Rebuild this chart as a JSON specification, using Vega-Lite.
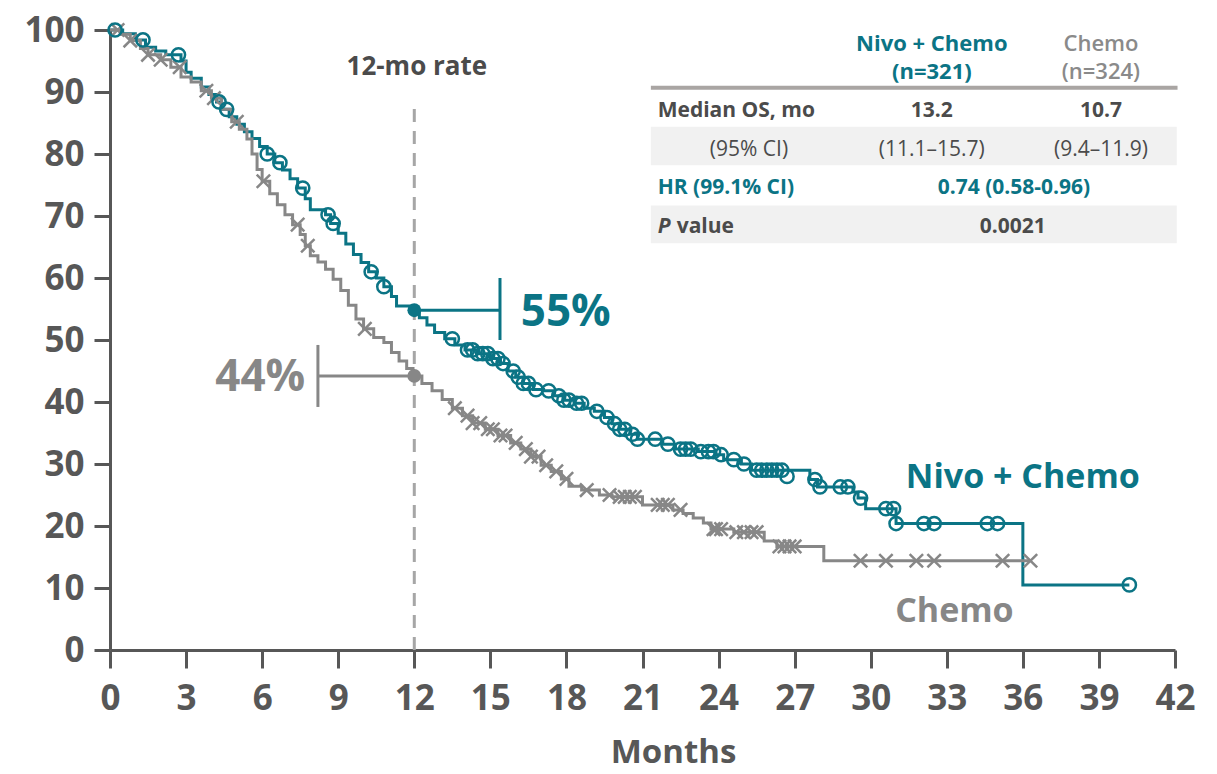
{
  "$schema": "https://vega.github.io/schema/vega-lite/v6.json",
  "width": 1065,
  "height": 620,
  "autosize": {"type": "none"},
  "padding": {"left": 110, "top": 30, "right": 42, "bottom": 124},
  "background": "white",
  "config": {
    "view": {"stroke": null},
    "font": "Open Sans",
    "axis": {
      "labelFont": "Open Sans",
      "labelFontWeight": "bold",
      "labelFontSize": 35,
      "labelColor": "#575757",
      "tickColor": "#575757",
      "domainColor": "#575757",
      "tickWidth": 3,
      "domainWidth": 3,
      "grid": false,
      "titleFont": "Open Sans",
      "titleFontWeight": "bold",
      "titleFontSize": 33,
      "titleColor": "#575757"
    }
  },
  "datasets": {
    "curve": [
      {"arm": "Nivo + Chemo", "t": 0, "s": 100},
      {"arm": "Nivo + Chemo", "t": 0.5, "s": 99.4},
      {"arm": "Nivo + Chemo", "t": 1.0, "s": 98.4},
      {"arm": "Nivo + Chemo", "t": 1.4, "s": 97.2},
      {"arm": "Nivo + Chemo", "t": 1.8, "s": 96.6},
      {"arm": "Nivo + Chemo", "t": 2.2, "s": 96.0},
      {"arm": "Nivo + Chemo", "t": 2.8, "s": 95.0},
      {"arm": "Nivo + Chemo", "t": 3.0, "s": 93.2},
      {"arm": "Nivo + Chemo", "t": 3.2, "s": 92.2},
      {"arm": "Nivo + Chemo", "t": 3.6, "s": 90.8},
      {"arm": "Nivo + Chemo", "t": 3.9, "s": 89.6},
      {"arm": "Nivo + Chemo", "t": 4.2, "s": 88.4},
      {"arm": "Nivo + Chemo", "t": 4.4, "s": 87.2},
      {"arm": "Nivo + Chemo", "t": 4.7, "s": 86.0},
      {"arm": "Nivo + Chemo", "t": 5.0, "s": 84.8},
      {"arm": "Nivo + Chemo", "t": 5.3, "s": 83.6},
      {"arm": "Nivo + Chemo", "t": 5.6, "s": 82.5},
      {"arm": "Nivo + Chemo", "t": 5.9, "s": 81.2},
      {"arm": "Nivo + Chemo", "t": 6.2, "s": 80.0},
      {"arm": "Nivo + Chemo", "t": 6.5, "s": 78.6},
      {"arm": "Nivo + Chemo", "t": 6.8, "s": 77.4},
      {"arm": "Nivo + Chemo", "t": 7.1, "s": 76.0},
      {"arm": "Nivo + Chemo", "t": 7.4, "s": 74.5},
      {"arm": "Nivo + Chemo", "t": 7.7, "s": 72.8},
      {"arm": "Nivo + Chemo", "t": 7.9, "s": 71.0},
      {"arm": "Nivo + Chemo", "t": 8.5, "s": 70.2},
      {"arm": "Nivo + Chemo", "t": 8.7, "s": 68.8},
      {"arm": "Nivo + Chemo", "t": 9.0, "s": 67.2},
      {"arm": "Nivo + Chemo", "t": 9.3, "s": 65.5},
      {"arm": "Nivo + Chemo", "t": 9.6, "s": 63.8},
      {"arm": "Nivo + Chemo", "t": 9.9, "s": 62.5},
      {"arm": "Nivo + Chemo", "t": 10.2, "s": 61.0},
      {"arm": "Nivo + Chemo", "t": 10.5, "s": 60.0},
      {"arm": "Nivo + Chemo", "t": 10.8, "s": 58.6},
      {"arm": "Nivo + Chemo", "t": 11.1, "s": 57.0},
      {"arm": "Nivo + Chemo", "t": 11.3, "s": 55.5},
      {"arm": "Nivo + Chemo", "t": 11.9, "s": 54.8},
      {"arm": "Nivo + Chemo", "t": 12.2, "s": 53.6},
      {"arm": "Nivo + Chemo", "t": 12.5, "s": 52.4},
      {"arm": "Nivo + Chemo", "t": 12.8, "s": 51.2},
      {"arm": "Nivo + Chemo", "t": 13.2, "s": 50.2},
      {"arm": "Nivo + Chemo", "t": 13.6, "s": 49.2},
      {"arm": "Nivo + Chemo", "t": 14.0, "s": 48.4},
      {"arm": "Nivo + Chemo", "t": 14.5, "s": 47.8},
      {"arm": "Nivo + Chemo", "t": 15.0, "s": 47.0},
      {"arm": "Nivo + Chemo", "t": 15.4, "s": 46.2},
      {"arm": "Nivo + Chemo", "t": 15.7, "s": 45.0},
      {"arm": "Nivo + Chemo", "t": 16.0, "s": 44.0},
      {"arm": "Nivo + Chemo", "t": 16.3, "s": 43.0},
      {"arm": "Nivo + Chemo", "t": 16.7, "s": 42.0},
      {"arm": "Nivo + Chemo", "t": 17.1, "s": 41.8},
      {"arm": "Nivo + Chemo", "t": 17.5, "s": 41.0},
      {"arm": "Nivo + Chemo", "t": 17.9, "s": 40.3},
      {"arm": "Nivo + Chemo", "t": 18.3, "s": 39.8},
      {"arm": "Nivo + Chemo", "t": 18.7, "s": 39.0},
      {"arm": "Nivo + Chemo", "t": 19.1, "s": 38.5},
      {"arm": "Nivo + Chemo", "t": 19.5, "s": 37.5},
      {"arm": "Nivo + Chemo", "t": 19.8, "s": 36.5},
      {"arm": "Nivo + Chemo", "t": 20.1, "s": 35.6},
      {"arm": "Nivo + Chemo", "t": 20.5, "s": 34.8},
      {"arm": "Nivo + Chemo", "t": 20.8, "s": 34.0},
      {"arm": "Nivo + Chemo", "t": 21.8, "s": 33.2},
      {"arm": "Nivo + Chemo", "t": 22.3, "s": 32.4},
      {"arm": "Nivo + Chemo", "t": 23.2, "s": 32.0},
      {"arm": "Nivo + Chemo", "t": 23.9, "s": 31.5},
      {"arm": "Nivo + Chemo", "t": 24.2, "s": 30.7},
      {"arm": "Nivo + Chemo", "t": 24.9, "s": 30.0},
      {"arm": "Nivo + Chemo", "t": 25.3, "s": 29.0},
      {"arm": "Nivo + Chemo", "t": 27.6, "s": 27.5},
      {"arm": "Nivo + Chemo", "t": 27.9, "s": 26.3},
      {"arm": "Nivo + Chemo", "t": 29.3, "s": 25.5},
      {"arm": "Nivo + Chemo", "t": 29.5, "s": 24.5},
      {"arm": "Nivo + Chemo", "t": 29.8, "s": 22.8},
      {"arm": "Nivo + Chemo", "t": 31.0, "s": 20.4},
      {"arm": "Nivo + Chemo", "t": 36.0, "s": 10.5},
      {"arm": "Nivo + Chemo", "t": 40.2, "s": 10.5},
      {"arm": "Chemo", "t": 0, "s": 100},
      {"arm": "Chemo", "t": 0.4, "s": 99.3},
      {"arm": "Chemo", "t": 0.8, "s": 98.3},
      {"arm": "Chemo", "t": 1.2, "s": 97.0},
      {"arm": "Chemo", "t": 1.5, "s": 96.0},
      {"arm": "Chemo", "t": 2.0, "s": 95.2},
      {"arm": "Chemo", "t": 2.4, "s": 94.0},
      {"arm": "Chemo", "t": 2.8, "s": 92.4},
      {"arm": "Chemo", "t": 3.2, "s": 91.6},
      {"arm": "Chemo", "t": 3.6, "s": 90.2},
      {"arm": "Chemo", "t": 4.0, "s": 89.0},
      {"arm": "Chemo", "t": 4.4, "s": 87.2},
      {"arm": "Chemo", "t": 4.8, "s": 85.2},
      {"arm": "Chemo", "t": 5.1, "s": 84.0},
      {"arm": "Chemo", "t": 5.4, "s": 82.4},
      {"arm": "Chemo", "t": 5.6, "s": 80.0},
      {"arm": "Chemo", "t": 5.8, "s": 77.5},
      {"arm": "Chemo", "t": 6.0, "s": 75.6},
      {"arm": "Chemo", "t": 6.3, "s": 73.6},
      {"arm": "Chemo", "t": 6.6, "s": 71.8},
      {"arm": "Chemo", "t": 6.9, "s": 70.2},
      {"arm": "Chemo", "t": 7.2, "s": 68.6},
      {"arm": "Chemo", "t": 7.5, "s": 67.0},
      {"arm": "Chemo", "t": 7.7, "s": 65.2},
      {"arm": "Chemo", "t": 7.9, "s": 63.6},
      {"arm": "Chemo", "t": 8.2, "s": 62.6},
      {"arm": "Chemo", "t": 8.5, "s": 61.4},
      {"arm": "Chemo", "t": 8.8, "s": 59.8},
      {"arm": "Chemo", "t": 9.1, "s": 58.0},
      {"arm": "Chemo", "t": 9.4, "s": 55.6},
      {"arm": "Chemo", "t": 9.7, "s": 53.4},
      {"arm": "Chemo", "t": 10.0, "s": 51.8},
      {"arm": "Chemo", "t": 10.4, "s": 50.4},
      {"arm": "Chemo", "t": 10.8, "s": 49.6},
      {"arm": "Chemo", "t": 11.1, "s": 48.0},
      {"arm": "Chemo", "t": 11.4, "s": 46.6},
      {"arm": "Chemo", "t": 11.7, "s": 45.4},
      {"arm": "Chemo", "t": 11.95, "s": 44.2},
      {"arm": "Chemo", "t": 12.3, "s": 43.0},
      {"arm": "Chemo", "t": 12.7, "s": 41.8},
      {"arm": "Chemo", "t": 13.1, "s": 40.4},
      {"arm": "Chemo", "t": 13.5, "s": 39.0},
      {"arm": "Chemo", "t": 13.9, "s": 37.8},
      {"arm": "Chemo", "t": 14.3, "s": 36.6},
      {"arm": "Chemo", "t": 14.8, "s": 35.6},
      {"arm": "Chemo", "t": 15.3, "s": 34.6},
      {"arm": "Chemo", "t": 15.8, "s": 33.4},
      {"arm": "Chemo", "t": 16.2, "s": 32.4},
      {"arm": "Chemo", "t": 16.6, "s": 31.2},
      {"arm": "Chemo", "t": 17.0, "s": 29.8},
      {"arm": "Chemo", "t": 17.4, "s": 28.8},
      {"arm": "Chemo", "t": 17.8, "s": 27.6},
      {"arm": "Chemo", "t": 18.1, "s": 26.4},
      {"arm": "Chemo", "t": 18.6, "s": 25.8},
      {"arm": "Chemo", "t": 19.3, "s": 25.0},
      {"arm": "Chemo", "t": 19.8, "s": 24.7},
      {"arm": "Chemo", "t": 21.0, "s": 23.4},
      {"arm": "Chemo", "t": 22.2, "s": 22.6},
      {"arm": "Chemo", "t": 22.6, "s": 22.0},
      {"arm": "Chemo", "t": 23.0, "s": 21.3},
      {"arm": "Chemo", "t": 23.4, "s": 20.5},
      {"arm": "Chemo", "t": 23.7, "s": 19.5},
      {"arm": "Chemo", "t": 24.6, "s": 19.0},
      {"arm": "Chemo", "t": 25.8, "s": 17.6},
      {"arm": "Chemo", "t": 26.3, "s": 16.7},
      {"arm": "Chemo", "t": 28.15, "s": 14.4},
      {"arm": "Chemo", "t": 36.3, "s": 14.4}
    ],
    "censorNivo": [
      {"t": 0.2, "s": 100}, {"t": 1.3, "s": 98.4}, {"t": 2.7, "s": 96.0}, {"t": 4.3, "s": 88.4},
      {"t": 4.6, "s": 87.2}, {"t": 6.2, "s": 80.0}, {"t": 6.7, "s": 78.6}, {"t": 7.6, "s": 74.5},
      {"t": 8.6, "s": 70.2}, {"t": 8.8, "s": 68.8}, {"t": 10.3, "s": 61.0}, {"t": 10.8, "s": 58.6},
      {"t": 13.5, "s": 50.2}, {"t": 14.1, "s": 48.4}, {"t": 14.3, "s": 48.4}, {"t": 14.5, "s": 47.8},
      {"t": 14.7, "s": 47.8}, {"t": 14.9, "s": 47.8}, {"t": 15.1, "s": 47.0}, {"t": 15.3, "s": 47.0},
      {"t": 15.5, "s": 46.2}, {"t": 15.9, "s": 45.0}, {"t": 16.1, "s": 44.0}, {"t": 16.3, "s": 43.0},
      {"t": 16.5, "s": 43.0}, {"t": 16.8, "s": 42.0}, {"t": 17.3, "s": 41.8}, {"t": 17.7, "s": 41.0},
      {"t": 17.9, "s": 40.3}, {"t": 18.1, "s": 40.3}, {"t": 18.4, "s": 39.8}, {"t": 18.6, "s": 39.8},
      {"t": 19.2, "s": 38.5}, {"t": 19.6, "s": 37.5}, {"t": 19.9, "s": 36.5}, {"t": 20.1, "s": 35.6},
      {"t": 20.3, "s": 35.6}, {"t": 20.6, "s": 34.8}, {"t": 20.8, "s": 34.0}, {"t": 21.5, "s": 34.0},
      {"t": 22.0, "s": 33.2}, {"t": 22.5, "s": 32.4}, {"t": 22.7, "s": 32.4}, {"t": 22.9, "s": 32.4},
      {"t": 23.3, "s": 32.0}, {"t": 23.6, "s": 32.0}, {"t": 23.8, "s": 32.0}, {"t": 24.1, "s": 31.5},
      {"t": 24.6, "s": 30.7}, {"t": 25.0, "s": 30.0}, {"t": 25.5, "s": 29.0}, {"t": 25.7, "s": 29.0},
      {"t": 25.9, "s": 29.0}, {"t": 26.1, "s": 29.0}, {"t": 26.3, "s": 29.0}, {"t": 26.5, "s": 29.0},
      {"t": 26.7, "s": 28.0}, {"t": 27.8, "s": 27.5}, {"t": 28.0, "s": 26.3}, {"t": 28.8, "s": 26.3},
      {"t": 29.1, "s": 26.3}, {"t": 29.6, "s": 24.5}, {"t": 30.6, "s": 22.8}, {"t": 30.9, "s": 22.8},
      {"t": 31.0, "s": 20.4}, {"t": 32.1, "s": 20.4}, {"t": 32.5, "s": 20.4}, {"t": 34.6, "s": 20.4},
      {"t": 35.0, "s": 20.4}, {"t": 40.2, "s": 10.5}
    ],
    "censorChemo": [
      {"t": 0.3, "s": 100}, {"t": 0.8, "s": 98.3}, {"t": 1.5, "s": 96.0}, {"t": 2.0, "s": 95.2},
      {"t": 2.75, "s": 94.0}, {"t": 3.8, "s": 90.2}, {"t": 4.1, "s": 89.0}, {"t": 5.0, "s": 85.2},
      {"t": 6.05, "s": 75.6}, {"t": 7.4, "s": 68.6}, {"t": 7.8, "s": 65.2}, {"t": 10.05, "s": 51.8},
      {"t": 13.6, "s": 39.0}, {"t": 14.1, "s": 37.8}, {"t": 14.3, "s": 36.6}, {"t": 14.6, "s": 36.6},
      {"t": 14.9, "s": 35.6}, {"t": 15.1, "s": 35.6}, {"t": 15.4, "s": 34.6}, {"t": 15.6, "s": 34.6},
      {"t": 16.0, "s": 33.4}, {"t": 16.4, "s": 32.4}, {"t": 16.6, "s": 31.2}, {"t": 16.9, "s": 31.2},
      {"t": 17.2, "s": 29.8}, {"t": 17.6, "s": 28.8}, {"t": 18.0, "s": 27.6}, {"t": 18.8, "s": 25.8},
      {"t": 19.7, "s": 25.0}, {"t": 20.1, "s": 24.7}, {"t": 20.3, "s": 24.7}, {"t": 20.5, "s": 24.7},
      {"t": 20.7, "s": 24.7}, {"t": 21.6, "s": 23.4}, {"t": 21.8, "s": 23.4}, {"t": 22.0, "s": 23.4},
      {"t": 22.5, "s": 22.6}, {"t": 23.8, "s": 19.5}, {"t": 23.9, "s": 19.5}, {"t": 24.1, "s": 19.5},
      {"t": 24.7, "s": 19.0}, {"t": 25.0, "s": 19.0}, {"t": 25.3, "s": 19.0}, {"t": 25.5, "s": 19.0},
      {"t": 26.4, "s": 16.7}, {"t": 26.6, "s": 16.7}, {"t": 26.8, "s": 16.7}, {"t": 27.0, "s": 16.7},
      {"t": 29.6, "s": 14.4}, {"t": 30.6, "s": 14.4}, {"t": 31.8, "s": 14.4}, {"t": 32.5, "s": 14.4},
      {"t": 35.2, "s": 14.4}, {"t": 36.3, "s": 14.4}
    ],
    "rate12": [
      {"arm": "Nivo + Chemo", "t": 12, "s": 54.8},
      {"arm": "Chemo", "t": 12, "s": 44.2}
    ],
    "brackets": [
      {"arm": "Nivo + Chemo", "t": 12, "t2": 15.38, "s": 54.8, "s2": 54.8},
      {"arm": "Nivo + Chemo", "t": 15.38, "t2": 15.38, "s": 60.0, "s2": 50.0},
      {"arm": "Chemo", "t": 8.2, "t2": 12, "s": 44.2, "s2": 44.2},
      {"arm": "Chemo", "t": 8.2, "t2": 8.2, "s": 49.2, "s2": 39.2}
    ],
    "bands": [
      {"t": 21.33, "t2": 42.07, "s": 84.4, "s2": 78.2},
      {"t": 21.33, "t2": 42.07, "s": 71.7, "s2": 65.6}
    ]
  },
  "encoding": {
    "x": {
      "field": "t", "type": "quantitative",
      "scale": {"domain": [0, 42], "nice": false, "zero": true},
      "axis": {
        "title": "Months",
        "values": [0, 3, 6, 9, 12, 15, 18, 21, 24, 27, 30, 33, 36, 39, 42],
        "tickSize": 18,
        "labelPadding": 13,
        "titlePadding": 20,
        "titleX": 563,
        "labelFlush": false,
        "labelOverlap": false
      }
    },
    "y": {
      "field": "s", "type": "quantitative",
      "scale": {"domain": [0, 100], "nice": false},
      "axis": {
        "title": null,
        "values": [0, 10, 20, 30, 40, 50, 60, 70, 80, 90, 100],
        "tickSize": 16,
        "labelPadding": 10,
        "labelFlush": false,
        "labelOverlap": false
      }
    }
  },
  "layer": [
    {
      "data": {"name": "bands"},
      "mark": {"type": "rect", "color": "#f1f1f1"},
      "encoding": {
        "x2": {"field": "t2"},
        "y2": {"field": "s2"}
      }
    },
    {
      "data": {"values": [{"t": 21.33, "t2": 42.1, "s": 90.7}]},
      "mark": {"type": "rule", "color": "#a9a5a3", "strokeWidth": 4},
      "encoding": {
        "x2": {"field": "t2"}
      }
    },
    {
      "data": {"values": [{"t": 12, "s": 0, "s2": 88.5}]},
      "mark": {"type": "rule", "color": "#a6a6a6", "strokeWidth": 3, "strokeDash": [13, 9]},
      "encoding": {
        "y2": {"field": "s2"}
      }
    },
    {
      "data": {"name": "curve"},
      "mark": {"type": "line", "interpolate": "step-after", "strokeWidth": 3},
      "encoding": {
        "color": {
          "field": "arm", "type": "nominal",
          "scale": {"domain": ["Nivo + Chemo", "Chemo"], "range": ["#0b7485", "#878787"]},
          "legend": null
        },
        "order": {"field": "t", "type": "quantitative"}
      }
    },
    {
      "data": {"name": "censorChemo"},
      "mark": {"type": "point", "shape": "M-1,-1L1,1M1,-1L-1,1", "filled": false, "opacity": 1, "size": 180, "strokeWidth": 2.5, "color": "#878787"},
      "encoding": {}
    },
    {
      "data": {"name": "censorNivo"},
      "mark": {"type": "point", "shape": "circle", "filled": false, "opacity": 1, "size": 175, "strokeWidth": 2.5, "color": "#0b7485"},
      "encoding": {}
    },
    {
      "data": {"name": "brackets"},
      "mark": {"type": "rule", "strokeWidth": 3},
      "encoding": {
        "x2": {"field": "t2"},
        "y2": {"field": "s2"},
        "color": {"field": "arm", "type": "nominal", "legend": null}
      }
    },
    {
      "data": {"name": "rate12"},
      "mark": {"type": "point", "shape": "circle", "filled": true, "size": 190, "opacity": 1},
      "encoding": {
        "color": {"field": "arm", "type": "nominal", "legend": null}
      }
    },
    {
      "data": {"values": [{"label": "Nivo + Chemo", "t": 32.41, "s": 97.7}, {"label": "(n=321)", "t": 32.41, "s": 93.2}]},
      "mark": {"type": "text", "font": "Open Sans", "fontSize": 22, "fontWeight": "bold", "color": "#0b7485", "align": "center", "baseline": "middle"},
      "encoding": {"text": {"field": "label"}}
    },
    {
      "data": {"values": [{"label": "Chemo", "t": 39.08, "s": 97.7}, {"label": "(n=324)", "t": 39.08, "s": 93.2}]},
      "mark": {"type": "text", "font": "Open Sans", "fontSize": 22, "fontWeight": 600, "color": "#8a8a8a", "align": "center", "baseline": "middle"},
      "encoding": {"text": {"field": "label"}}
    },
    {
      "data": {"values": [{"label": "Median OS, mo", "t": 21.6, "s": 86.9}, {"label": "value", "t": 22.35, "s": 68.2}]},
      "mark": {"type": "text", "font": "Open Sans", "fontSize": 21, "fontWeight": "bold", "color": "#4b4b4b", "align": "left", "baseline": "middle"},
      "encoding": {"text": {"field": "label"}}
    },
    {
      "data": {"values": [{"label": "P", "t": 21.6, "s": 68.2}]},
      "mark": {"type": "text", "font": "Open Sans", "fontSize": 21, "fontWeight": "bold", "fontStyle": "italic", "color": "#4b4b4b", "align": "left", "baseline": "middle"},
      "encoding": {"text": {"field": "label"}}
    },
    {
      "data": {"values": [{"label": "13.2", "t": 32.41, "s": 86.9}, {"label": "10.7", "t": 39.08, "s": 86.9}, {"label": "0.0021", "t": 35.6, "s": 68.2}]},
      "mark": {"type": "text", "font": "Open Sans", "fontSize": 21, "fontWeight": "bold", "color": "#4b4b4b", "align": "center", "baseline": "middle"},
      "encoding": {"text": {"field": "label"}}
    },
    {
      "data": {"values": [{"label": "(95% CI)", "t": 25.2, "s": 80.6}, {"label": "(11.1–15.7)", "t": 32.41, "s": 80.6}, {"label": "(9.4–11.9)", "t": 39.08, "s": 80.6}]},
      "mark": {"type": "text", "font": "Open Sans", "fontSize": 21, "fontWeight": "normal", "color": "#4b4b4b", "align": "center", "baseline": "middle"},
      "encoding": {"text": {"field": "label"}}
    },
    {
      "data": {"values": [{"label": "HR (99.1% CI)", "t": 21.6, "s": 74.5}]},
      "mark": {"type": "text", "font": "Open Sans", "fontSize": 21, "fontWeight": "bold", "color": "#0b7485", "align": "left", "baseline": "middle"},
      "encoding": {"text": {"field": "label"}}
    },
    {
      "data": {"values": [{"label": "0.74 (0.58-0.96)", "t": 35.65, "s": 74.5}]},
      "mark": {"type": "text", "font": "Open Sans", "fontSize": 21, "fontWeight": "bold", "color": "#0b7485", "align": "center", "baseline": "middle"},
      "encoding": {"text": {"field": "label"}}
    },
    {
      "data": {"values": [{"label": "12-mo rate", "t": 12.1, "s": 94.1}]},
      "mark": {"type": "text", "font": "Open Sans", "fontSize": 26, "fontWeight": "bold", "color": "#4b4b4b", "align": "center", "baseline": "middle"},
      "encoding": {"text": {"field": "label"}}
    },
    {
      "data": {"values": [{"label": "55%", "t": 16.2, "s": 54.3}]},
      "mark": {"type": "text", "font": "Open Sans", "fontSize": 44, "fontWeight": "bold", "color": "#0b7485", "align": "left", "baseline": "middle"},
      "encoding": {"text": {"field": "label"}}
    },
    {
      "data": {"values": [{"label": "44%", "t": 7.7, "s": 43.8}]},
      "mark": {"type": "text", "font": "Open Sans", "fontSize": 44, "fontWeight": "bold", "color": "#878787", "align": "right", "baseline": "middle"},
      "encoding": {"text": {"field": "label"}}
    },
    {
      "data": {"values": [{"label": "Nivo + Chemo", "t": 36.0, "s": 27.8}]},
      "mark": {"type": "text", "font": "Open Sans", "fontSize": 34, "fontWeight": "bold", "color": "#0b7485", "align": "center", "baseline": "middle"},
      "encoding": {"text": {"field": "label"}}
    },
    {
      "data": {"values": [{"label": "Chemo", "t": 33.3, "s": 6.1}]},
      "mark": {"type": "text", "font": "Open Sans", "fontSize": 34, "fontWeight": "bold", "color": "#878787", "align": "center", "baseline": "middle"},
      "encoding": {"text": {"field": "label"}}
    }
  ]
}
